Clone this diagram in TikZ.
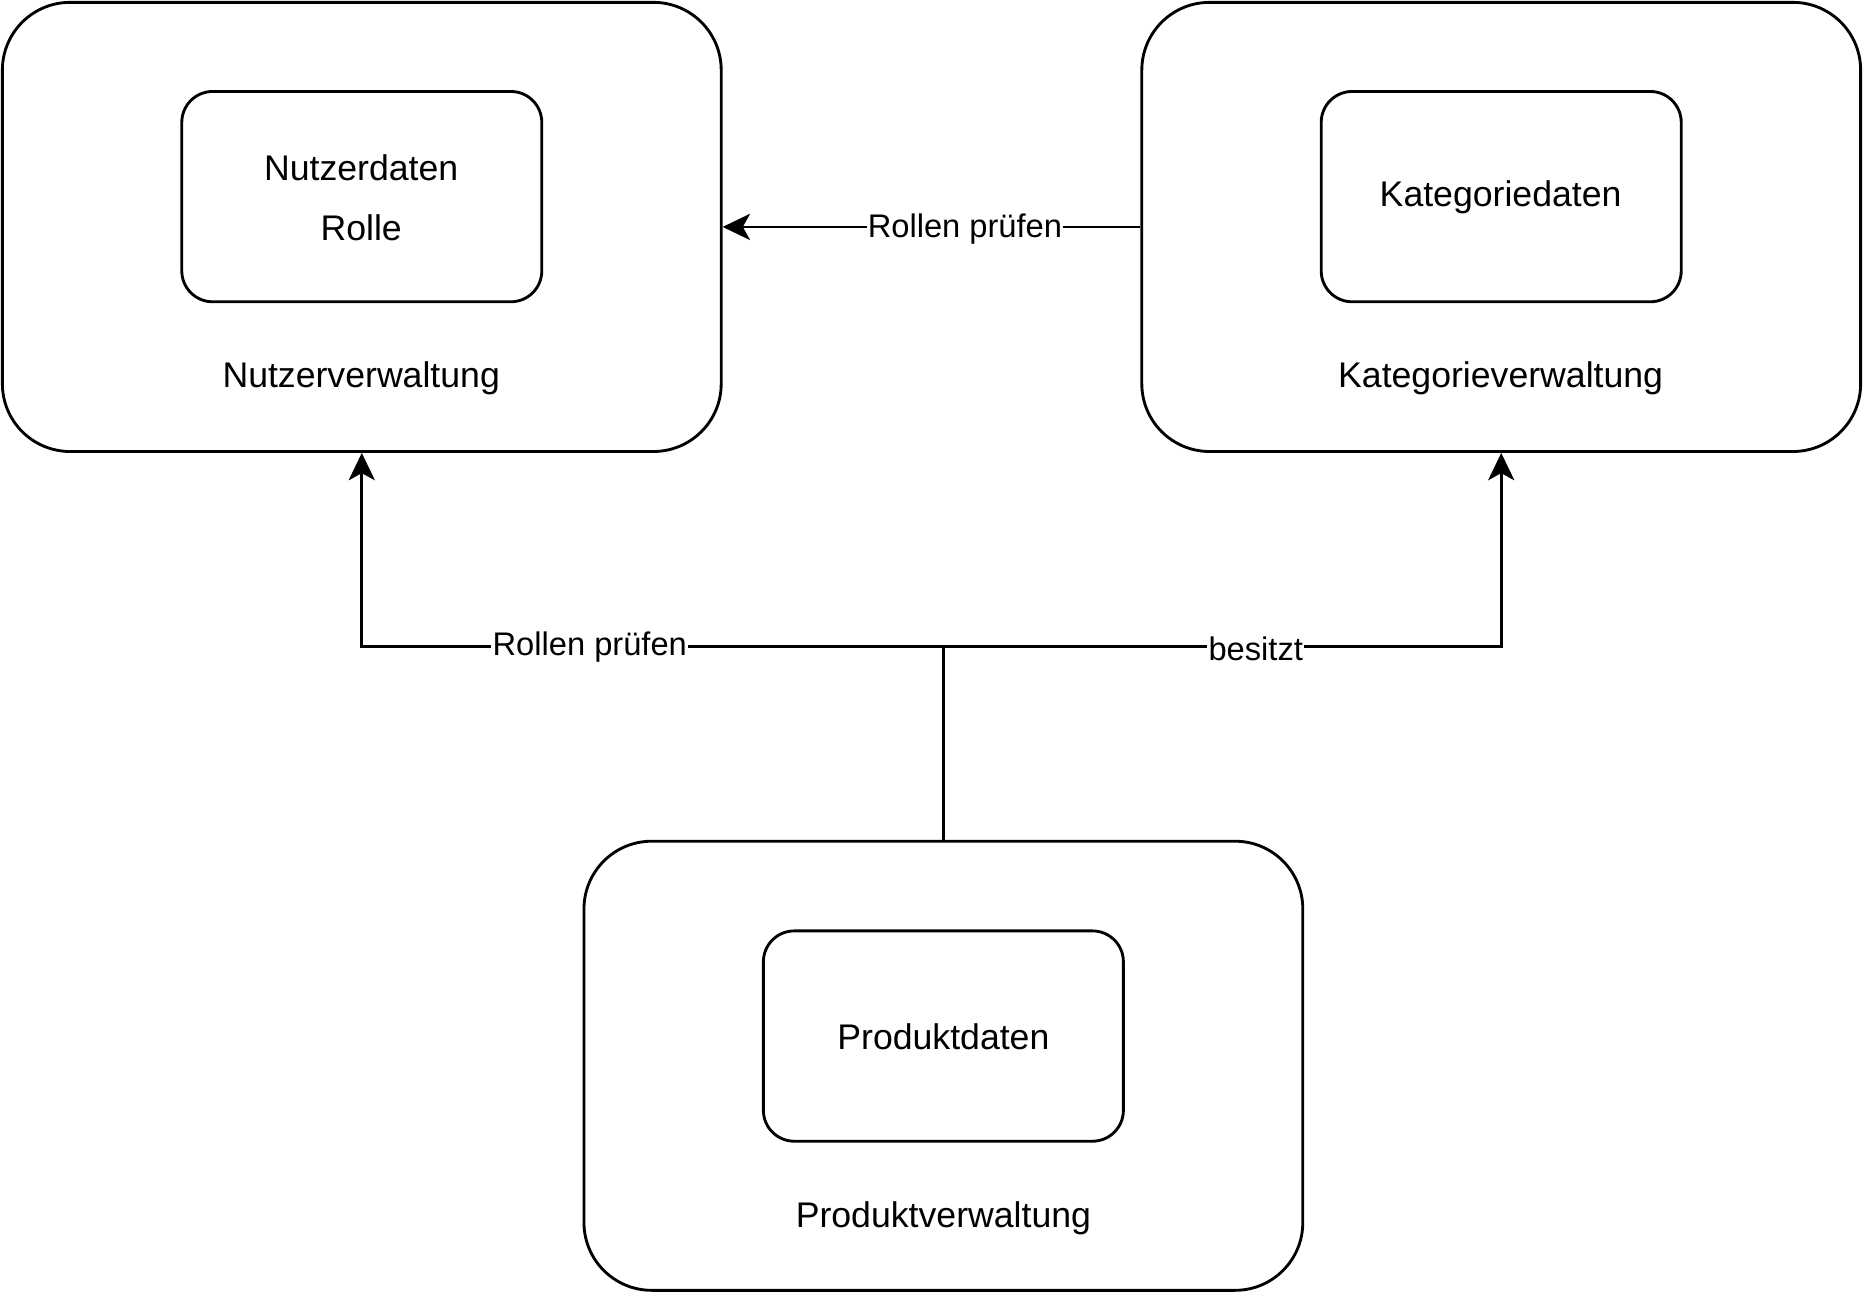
\documentclass[tikz,border=0pt]{standalone}
\usepackage{fontspec}
\setmainfont{Liberation Sans}
\usetikzlibrary{arrows.meta}
\begin{document}
\begin{tikzpicture}[x=1pt,y=-1pt,
  outerbox/.style={draw,line width=2.4pt,rounded corners=57pt,minimum width=605pt,minimum height=378pt,inner sep=0pt},
  innerbox/.style={draw,line width=2.4pt,rounded corners=26pt,minimum width=303pt,minimum height=177pt,inner sep=0pt},
  txt/.style={font=\fontsize{30}{36}\selectfont,inner sep=0pt},
  elabel/.style={font=\fontsize{27.5}{33}\selectfont,fill=white,inner sep=1pt},
  conn/.style={line width=2.4pt},
  arr/.style={conn,-{Stealth[length=23pt,width=22pt,inset=6pt]}}]
\useasboundingbox (0,0) rectangle (1568,1088.3);
% boxes
\node[outerbox] (nv) at (304.5,191) {};
\node[innerbox] (nd) at (304.5,165.5) {};
\node[txt] (nd1) at (304,141) {Nutzerdaten};
\node[txt] (nd2) at (304,192) {Rolle};
\node[txt] (nvl) at (304,318) {Nutzerverwaltung};
\node[outerbox] (kv) at (1263.5,191) {};
\node[innerbox] (kd) at (1263.5,165.5) {};
\node[txt] (kdl) at (1263,166) {Kategoriedaten};
\node[txt] (kvl) at (1263,318) {Kategorieverwaltung};
\node[outerbox] (pv) at (794,897) {};
\node[innerbox] (pd) at (794,872) {};
\node[txt] (pdl) at (794,873) {Produktdaten};
\node[txt] (pvl) at (794,1025) {Produktverwaltung};
% connectors
\coordinate (j) at (794,544);
\draw[arr] (kv.west) -- node[elabel,pos=0.42,yshift=-2pt]{Rollen prüfen} (nv.east);
\draw[conn] (pv.north) -- (j);
\draw[arr] (j) -| node[elabel,pos=0.304,yshift=-1pt]{Rollen prüfen} (nv.south);
\draw[arr] (j) -| node[elabel,pos=0.28,yshift=-2pt]{besitzt} (kv.south);
\end{tikzpicture}
\end{document}
